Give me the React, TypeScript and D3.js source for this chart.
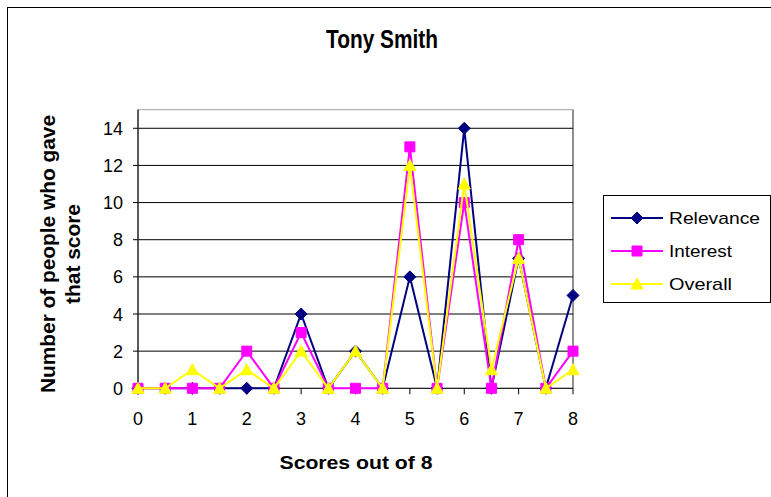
import React from "react";
import * as d3 from "d3";

const scores = [0, 0.5, 1, 1.5, 2, 2.5, 3, 3.5, 4, 4.5, 5, 5.5, 6, 6.5, 7, 7.5, 8];
const relevance = [0, 0, 0, 0, 0, 0, 4, 0, 2, 0, 6, 0, 14, 0, 7, 0, 5];
const interest = [0, 0, 0, 0, 2, 0, 3, 0, 0, 0, 13, 0, 10, 0, 8, 0, 2];
const overall = [0, 0, 1, 0, 1, 0, 2, 0, 2, 0, 12, 0, 11, 1, 7, 0, 1];
const xTicks = [0, 1, 2, 3, 4, 5, 6, 7, 8];
const yTicks = [0, 2, 4, 6, 8, 10, 12, 14];
const seriesNames = ["Relevance", "Interest", "Overall"];

const W = 771;
const H = 497;
const FONT = "'Liberation Sans', Arial, sans-serif";

export default function App() {
  const x = d3.scaleLinear().domain([0, 8]).range([138, 573]);
  const y = d3.scaleLinear().domain([0, 15]).range([388.3, 109.7]);

  const series = [
    { name: seriesNames[0], values: relevance, color: "#000080", marker: "diamond" },
    { name: seriesNames[1], values: interest, color: "#FF00FF", marker: "square" },
    { name: seriesNames[2], values: overall, color: "#FFFF00", marker: "triangle" },
  ];

  const line = d3
    .line<[number, number]>()
    .x((d) => x(d[0]))
    .y((d) => y(d[1]));

  const markerPath = (kind: string, cx: number, cy: number) => {
    if (kind === "diamond") {
      const r = 6;
      return `M${cx},${cy - r}L${cx + r},${cy}L${cx},${cy + r}L${cx - r},${cy}Z`;
    }
    if (kind === "square") {
      const r = 5;
      return `M${cx - r},${cy - r}H${cx + r}V${cy + r}H${cx - r}Z`;
    }
    const r = 6;
    return `M${cx},${cy - r}L${cx + r},${cy + 5}L${cx - r},${cy + 5}Z`;
  };

  const legendRows = [218, 251, 284];
  const legendTextLen = [91, 63, 63];

  return (
    <div style={{ position: "absolute", left: 0, top: 0 }}>
      <svg width={W} height={H} style={{ display: "block", background: "#fff" }}>
        <rect x={7.5} y={7.5} width={900} height={600} fill="#fff" stroke="#000" strokeWidth={1} />
        <text
          x={382}
          y={48}
          textAnchor="middle"
          fontFamily={FONT}
          fontWeight="bold"
          fontSize={25}
          textLength={112}
          lengthAdjust="spacingAndGlyphs"
        >
          Tony Smith
        </text>

        {/* plot area */}
        <rect x={x(0)} y={y(15)} width={x(8) - x(0)} height={y(0) - y(15)} fill="#fff" stroke="#a0a0a0" strokeWidth={1} />
        <line x1={x(8)} x2={x(8)} y1={y(15)} y2={y(0)} stroke="#909090" strokeWidth={2} />
        {yTicks.filter((t) => t > 0).map((t) => (
          <line key={t} x1={x(0)} x2={x(8)} y1={y(t)} y2={y(t)} stroke="#000" strokeWidth={1} />
        ))}
        {/* axes */}
        <line x1={x(0)} x2={x(0)} y1={y(15)} y2={y(0)} stroke="#333" strokeWidth={1.5} />
        <line x1={x(0)} x2={x(8)} y1={y(0)} y2={y(0)} stroke="#000" strokeWidth={1} />
        {yTicks.map((t) => (
          <g key={t}>
            <line x1={x(0) - 5} x2={x(0)} y1={y(t)} y2={y(t)} stroke="#000" />
            <text x={123} y={y(t) + 6.5} textAnchor="end" fontFamily={FONT} fontSize={18}>
              {t}
            </text>
          </g>
        ))}
        {xTicks.map((t) => (
          <g key={t}>
            <line x1={x(t)} x2={x(t)} y1={y(0)} y2={y(0) + 6} stroke="#000" />
            <text x={x(t)} y={425} textAnchor="middle" fontFamily={FONT} fontSize={18}>
              {t}
            </text>
          </g>
        ))}

        {/* axis titles */}
        <text
          x={356}
          y={469}
          textAnchor="middle"
          fontFamily={FONT}
          fontWeight="bold"
          fontSize={19}
          textLength={153}
          lengthAdjust="spacingAndGlyphs"
        >
          Scores out of 8
        </text>
        <g transform="translate(55,254) rotate(-90)">
          <text x={0} y={0} textAnchor="middle" fontFamily={FONT} fontWeight="bold" fontSize={20} textLength={278} lengthAdjust="spacingAndGlyphs">
            Number of people who gave
          </text>
          <text x={0} y={25} textAnchor="middle" fontFamily={FONT} fontWeight="bold" fontSize={20} textLength={100} lengthAdjust="spacingAndGlyphs">
            that score
          </text>
        </g>

        {/* series */}
        {series.map((s) => {
          const pts = scores.map((sc, i) => [sc, s.values[i]] as [number, number]);
          return (
            <g key={s.name}>
              <path d={line(pts) || ""} fill="none" stroke={s.color} strokeWidth={2} />
              {pts.map((p, i) => (
                <path key={i} d={markerPath(s.marker, x(p[0]), y(p[1]))} fill={s.color} stroke={s.color} strokeWidth={1} />
              ))}
            </g>
          );
        })}

        {/* legend */}
        <rect x={603.5} y={195.5} width={167} height={107} fill="#fff" stroke="#000" strokeWidth={1} />
        {series.map((s, i) => (
          <g key={s.name}>
            <line x1={611} x2={663} y1={legendRows[i]} y2={legendRows[i]} stroke={s.color} strokeWidth={2} />
            <path d={markerPath(s.marker, 637, legendRows[i])} fill={s.color} stroke={s.color} />
            <text
              x={669}
              y={legendRows[i] + 6}
              fontFamily={FONT}
              fontSize={17}
              textLength={legendTextLen[i]}
              lengthAdjust="spacingAndGlyphs"
            >
              {s.name}
            </text>
          </g>
        ))}
      </svg>
    </div>
  );
}
